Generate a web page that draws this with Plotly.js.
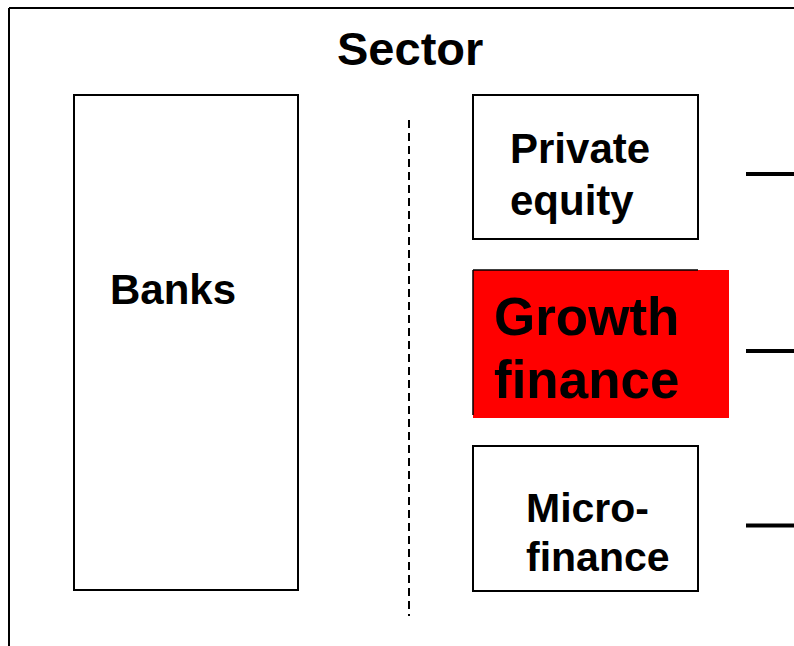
<!DOCTYPE html>
<html><head><meta charset="utf-8">
<script src="https://cdn.plot.ly/plotly-3.0.1.min.js"></script>
<style>html,body{margin:0;padding:0;background:#fff;}#chart{width:794px;height:646px;}</style>
</head><body><div id="chart"></div>
<script>
const title = "Sector";
const leftLabels = ["Banks"];
const rightLabels = ["Private<br>equity", "Growth<br>finance", "Micro-<br>finance"];
const highlighted = [false, true, false];

const FONT = "Liberation Sans, Arial, sans-serif";
const shapes = [];
const annotations = [];

// outer frame
shapes.push({type:'line', x0:9, x1:800, y0:8, y1:8, line:{color:'#000', width:2}});
shapes.push({type:'line', x0:9, x1:9, y0:8, y1:650, line:{color:'#000', width:2}});
// left box
shapes.push({type:'rect', x0:74, x1:298, y0:95, y1:590, line:{color:'#000', width:2}, fillcolor:'rgba(0,0,0,0)'});
annotations.push({x:108, y:289, text:leftLabels[0], xanchor:'left', yanchor:'middle', showarrow:false, font:{family:FONT, size:42, color:'#000', weight:'bold'}});
// divider
shapes.push({type:'line', x0:409, x1:409, y0:120, y1:616, line:{color:'#000', width:2, dash:'8px,5px'}});

const boxes = [
  {y0:95, y1:239, tx:508, ty:174, gap:52, size:42},
  {y0:270, y1:418, tx:492, ty:348, gap:63, size:53},
  {y0:446, y1:591, tx:524, ty:532, gap:49, size:41}
];
rightLabels.forEach((lab, i) => {
  const b = boxes[i];
  if (highlighted[i]) {
    shapes.push({type:'rect', x0:473, x1:729, y0:b.y0, y1:b.y1, line:{width:0}, fillcolor:'#ff0000'});
    shapes.push({type:'line', x0:473, x1:698, y0:b.y0, y1:b.y0, line:{color:'#000', width:1.5}});
    shapes.push({type:'line', x0:473, x1:473, y0:b.y0, y1:b.y1-3, line:{color:'#000', width:1.5}});
  } else {
    shapes.push({type:'rect', x0:473, x1:698, y0:b.y0, y1:b.y1, line:{color:'#000', width:2}, fillcolor:'rgba(0,0,0,0)'});
  }
  shapes.push({type:'line', x0:746, x1:800, y0:(b.y0+b.y1)/2+7, y1:(b.y0+b.y1)/2+7, line:{color:'#000', width:4}});
  const lines = lab.split('<br>');
  lines.forEach((ln, j) => {
    annotations.push({x:b.tx, y:b.ty + (j - (lines.length-1)/2) * b.gap, text:ln, xanchor:'left', yanchor:'middle', align:'left', showarrow:false, font:{family:FONT, size:b.size, color:'#000', weight:'bold'}});
  });
});
annotations.push({x:410, y:48, text:title, xanchor:'center', yanchor:'middle', showarrow:false, font:{family:FONT, size:47, color:'#000', weight:'bold'}});

Plotly.newPlot('chart', [{x:[], y:[], type:'scatter'}], {
  width:794, height:646, margin:{l:0,r:0,t:0,b:0},
  paper_bgcolor:'#fff', plot_bgcolor:'#fff', showlegend:false,
  xaxis:{range:[0,794], visible:false, fixedrange:true},
  yaxis:{range:[646,0], visible:false, fixedrange:true},
  shapes, annotations
}, {staticPlot:true, displayModeBar:false});
</script></body></html>
